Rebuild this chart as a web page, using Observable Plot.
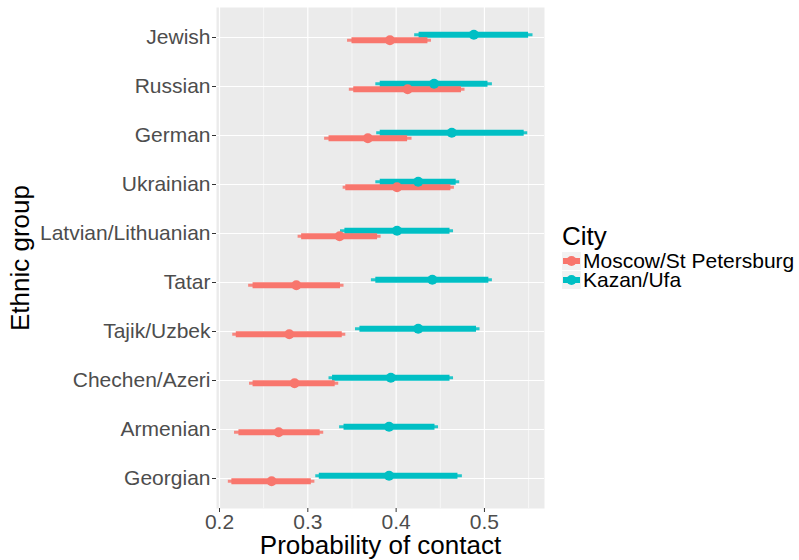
<!DOCTYPE html>
<html>
<head>
<meta charset="utf-8">
<script src="https://cdn.jsdelivr.net/npm/d3@7"></script>
<script src="https://cdn.jsdelivr.net/npm/@observablehq/plot@0.6"></script>
<style>
  body { margin: 0; background: #fff; font-family: "Liberation Sans", Arial, sans-serif; }
  #wrap { position: relative; width: 799px; height: 560px; }
  #legend { position: absolute; left: 553px; top: 221px; color: #000; }
  #legend .title { font-size: 26px; line-height: 30px; padding-left: 9px; }
  #legend .row { display: flex; align-items: center; height: 19px; font-size: 21px; }
  #legend .key { width: 28px; height: 18px; display: flex; justify-content: flex-end; }
  #legend svg { display: block; }
</style>
</head>
<body>
<div id="wrap"><div id="chart"></div><div id="legend"></div></div>
<script>
const groups = ["Jewish", "Russian", "German", "Ukrainian", "Latvian/Lithuanian", "Tatar", "Tajik/Uzbek", "Chechen/Azeri", "Armenian", "Georgian"];
const cities = ["Moscow/St Petersburg", "Kazan/Ufa"];
const cityColors = ["#F8766D", "#00BFC4"];

const moscowEst    = [0.393, 0.413, 0.368, 0.401, 0.336, 0.287, 0.279, 0.285, 0.267, 0.259];
const moscowOuterLo = [0.345, 0.347, 0.319, 0.340, 0.289, 0.233, 0.215, 0.234, 0.217, 0.210];
const moscowOuterHi = [0.440, 0.478, 0.418, 0.466, 0.383, 0.341, 0.343, 0.335, 0.318, 0.308];
const moscowInnerLo = [0.350, 0.352, 0.324, 0.343, 0.293, 0.238, 0.219, 0.238, 0.222, 0.214];
const moscowInnerHi = [0.436, 0.474, 0.413, 0.462, 0.379, 0.337, 0.339, 0.331, 0.314, 0.304];

const kazanEst     = [0.488, 0.443, 0.463, 0.425, 0.401, 0.441, 0.425, 0.394, 0.392, 0.392];
const kazanOuterLo = [0.421, 0.377, 0.378, 0.377, 0.337, 0.372, 0.354, 0.324, 0.336, 0.309];
const kazanOuterHi = [0.555, 0.509, 0.549, 0.472, 0.465, 0.509, 0.495, 0.465, 0.448, 0.475];
const kazanInnerLo = [0.426, 0.382, 0.382, 0.382, 0.342, 0.377, 0.359, 0.328, 0.341, 0.313];
const kazanInnerHi = [0.550, 0.504, 0.545, 0.468, 0.461, 0.505, 0.491, 0.461, 0.444, 0.470];

const xMajorTicks = [0.2, 0.3, 0.4, 0.5];
const xMinorTicks = [0.25, 0.35, 0.45, 0.55];

const rows = [];
groups.forEach((g, i) => {
  rows.push({group: g, city: cities[0], est: moscowEst[i], lo: moscowOuterLo[i], hi: moscowOuterHi[i], lo2: moscowInnerLo[i], hi2: moscowInnerHi[i]});
  rows.push({group: g, city: cities[1], est: kazanEst[i], lo: kazanOuterLo[i], hi: kazanOuterHi[i], lo2: kazanInnerLo[i], hi2: kazanInnerHi[i]});
});

const dodge = {[cities[0]]: 2.7, [cities[1]]: -2.7};
const drawOrder = [cities[1], cities[0]];

const layer = (fn) => drawOrder.map(c => fn(c));

const chart = Plot.plot({
  width: 799,
  height: 560,
  marginLeft: 216,
  marginRight: 255,
  marginTop: 7,
  marginBottom: 52,
  x: {domain: [0.1966, 0.568]},
  y: {type: "point", domain: groups, padding: 0.6},
  color: {domain: cities, range: cityColors},
  style: {fontFamily: "'Liberation Sans', Arial, sans-serif", fontSize: "21px", background: "#fff"},
  marks: [
    Plot.frame({fill: "#EBEBEB", stroke: "none"}),
    Plot.ruleX(xMinorTicks, {stroke: "#fff", strokeWidth: 0.6}),
    Plot.ruleX(xMajorTicks, {stroke: "#fff", strokeWidth: 1.2}),
    Plot.ruleY(groups, {y: d => d, stroke: "#fff", strokeWidth: 1.2}),
    Plot.axisX({ticks: xMajorTicks, tickSize: 4, tickPadding: 2, stroke: "#333", fill: "#4D4D4D", label: null, tickFormat: d3.format(".1f")}),
    Plot.axisY({tickSize: 4, tickPadding: 2, stroke: "#333", fill: "#4D4D4D", label: null}),
    ...layer(c => Plot.ruleY(rows, {filter: d => d.city === c, y: "group", x1: "lo", x2: "hi", stroke: "city", strokeWidth: 3, dy: dodge[c], strokeOpacity: 0.85})),
    ...layer(c => Plot.ruleY(rows, {filter: d => d.city === c, y: "group", x1: "lo2", x2: "hi2", stroke: "city", strokeWidth: 6, dy: dodge[c]})),
    ...layer(c => Plot.dot(rows, {filter: d => d.city === c, y: "group", x: "est", fill: "city", r: 5, dy: dodge[c]})),
    Plot.text(["Probability of contact"], {frameAnchor: "bottom", text: d => d, dy: 45, fontSize: 26, fill: "#000"}),
    Plot.text(["Ethnic group"], {frameAnchor: "left", text: d => d, dx: -196, rotate: -90, textAnchor: "middle", fontSize: 26, fill: "#000"})
  ]
});
document.getElementById("chart").appendChild(chart);

const legend = document.getElementById("legend");
const title = document.createElement("div");
title.className = "title";
title.textContent = "City";
legend.appendChild(title);
cities.forEach((c, i) => {
  const row = document.createElement("div");
  row.className = "row";
  const key = document.createElement("div");
  key.className = "key";
  key.innerHTML = `<svg width="19" height="18"><rect width="19" height="18" fill="#F2F2F2"/><line x1="1" x2="18" y1="9" y2="9" stroke="${cityColors[i]}" stroke-width="6"/><circle cx="9.5" cy="9" r="5" fill="${cityColors[i]}"/></svg>`;
  const lab = document.createElement("span");
  lab.style.marginLeft = "2px";
  lab.textContent = c;
  row.appendChild(key);
  row.appendChild(lab);
  legend.appendChild(row);
});
</script>
</body>
</html>
